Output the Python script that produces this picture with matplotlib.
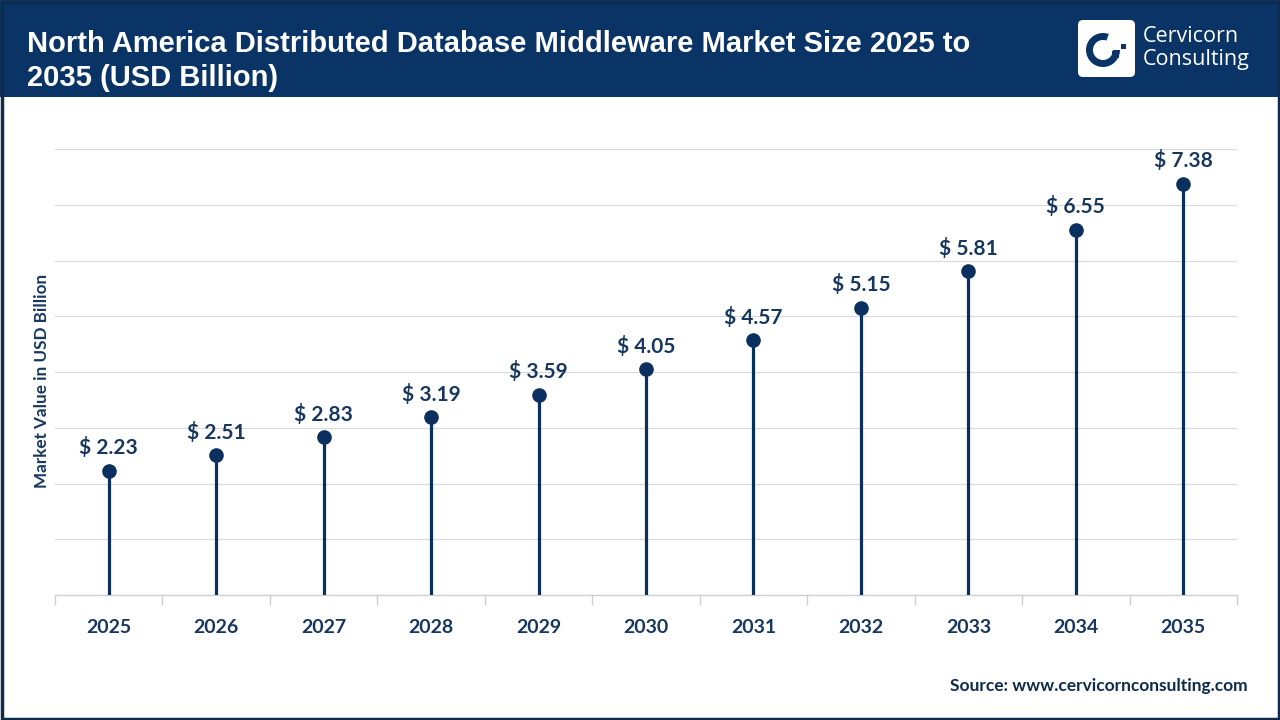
import matplotlib.pyplot as plt
from matplotlib.patches import Rectangle, FancyBboxPatch, Wedge

plt.rcParams['font.family'] = ['Lato', 'DejaVu Sans']

years = ["2025", "2026", "2027", "2028", "2029", "2030",
         "2031", "2032", "2033", "2034", "2035"]
values = [2.23, 2.51, 2.83, 3.19, 3.59, 4.05, 4.57, 5.15, 5.81, 6.55, 7.38]

navy = "#0b2f5e"
header = "#0b3466"
label_color = "#17375e"

fig = plt.figure(figsize=(12.8, 7.2), dpi=100)

# 顶部标题栏
fig.patches.append(Rectangle((0, 720 - 97), 1280, 97, transform=None,
                             facecolor=header, edgecolor="none", zorder=0))
fig.text(27 / 1280, 1 - 44 / 720,
         "North America Distributed Database Middleware Market Size 2025 to",
         color="white", fontsize=21, fontweight="bold",
         family=["Liberation Sans", "DejaVu Sans"], va="center", ha="left")
fig.text(27 / 1280, 1 - 78 / 720, "2035 (USD Billion)",
         color="white", fontsize=21, fontweight="bold",
         family=["Liberation Sans", "DejaVu Sans"], va="center", ha="left")

# logo
fig.patches.append(FancyBboxPatch((1078, 720 - 77), 57, 57, transform=None,
                                  boxstyle="round,pad=0,rounding_size=5",
                                  facecolor="white", edgecolor="none", zorder=1))
fig.patches.append(Wedge((1103, 720 - 50), 17, 70, 360, width=7, transform=None,
                         facecolor=header, edgecolor="none", zorder=2))
fig.patches.append(Rectangle((1112, 720 - 58), 7, 7, transform=None,
                             facecolor=header, edgecolor="none", zorder=2))
fig.patches.append(Rectangle((1121, 720 - 49), 5, 5, transform=None,
                             facecolor=header, edgecolor="none", zorder=2))
fig.text(1143 / 1280, 1 - 37 / 720, "Cervicorn", color="white", fontsize=15.5,
         family=["Open Sans", "DejaVu Sans"], va="center", ha="left")
fig.text(1143 / 1280, 1 - 59 / 720, "Consulting", color="white", fontsize=15.5,
         family=["Open Sans", "DejaVu Sans"], va="center", ha="left")

# 外框
fig.patches.append(Rectangle((1.5, 1.5), 1277, 717, transform=None,
                             facecolor="none", edgecolor="#0d2b4b",
                             linewidth=2.5, zorder=5))

# 画图
ax = fig.add_axes([55 / 1280, 125 / 720, (1237 - 55) / 1280, (595 - 149) / 720])
x = list(range(len(years)))
ax.vlines(x, 0, values, color=navy, linewidth=2.3, zorder=3)
ax.plot(x, values, "o", color=navy, markersize=9.5, zorder=4)
for xi, v in zip(x, values):
    ax.annotate(f"$ {v:.2f}", (xi, v), xytext=(0, 9), textcoords="offset points",
                ha="center", va="bottom", fontsize=15, fontweight="bold",
                color=label_color)

ax.set_xlim(-0.5, len(years) - 0.5)
ax.set_ylim(0, 8)
ax.set_yticks(range(0, 9))
ax.set_yticklabels([])
ax.tick_params(axis="y", length=0)
ax.grid(axis="y", color="#d9d9d9", linewidth=0.8)
ax.set_axisbelow(True)
for s in ["top", "right", "left"]:
    ax.spines[s].set_visible(False)
ax.spines["bottom"].set_color("#cfcfcf")
ax.spines["bottom"].set_linewidth(1)

ax.set_xticks([i - 0.5 for i in range(len(years) + 1)], minor=False)
ax.set_xticklabels([])
ax.tick_params(axis="x", which="major", length=7, color="#cfcfcf", width=1)
ax.set_xticks(x, minor=True)
ax.set_xticklabels(years, minor=True, fontsize=14, fontweight="bold",
                   color=label_color)
ax.tick_params(axis="x", which="minor", length=0, pad=17)

fig.text(42 / 1280, 1 - 381 / 720, "Market Value in USD Billion", rotation=90,
         fontsize=12.3, fontweight="bold", color=label_color,
         va="center", ha="center")

fig.text(1248 / 1280, 1 - 686 / 720, "Source: www.cervicornconsulting.com",
         fontsize=12.5, fontweight="bold", color="#0d2b4b", ha="right", va="center")

fig.savefig("out.png", dpi=100)
